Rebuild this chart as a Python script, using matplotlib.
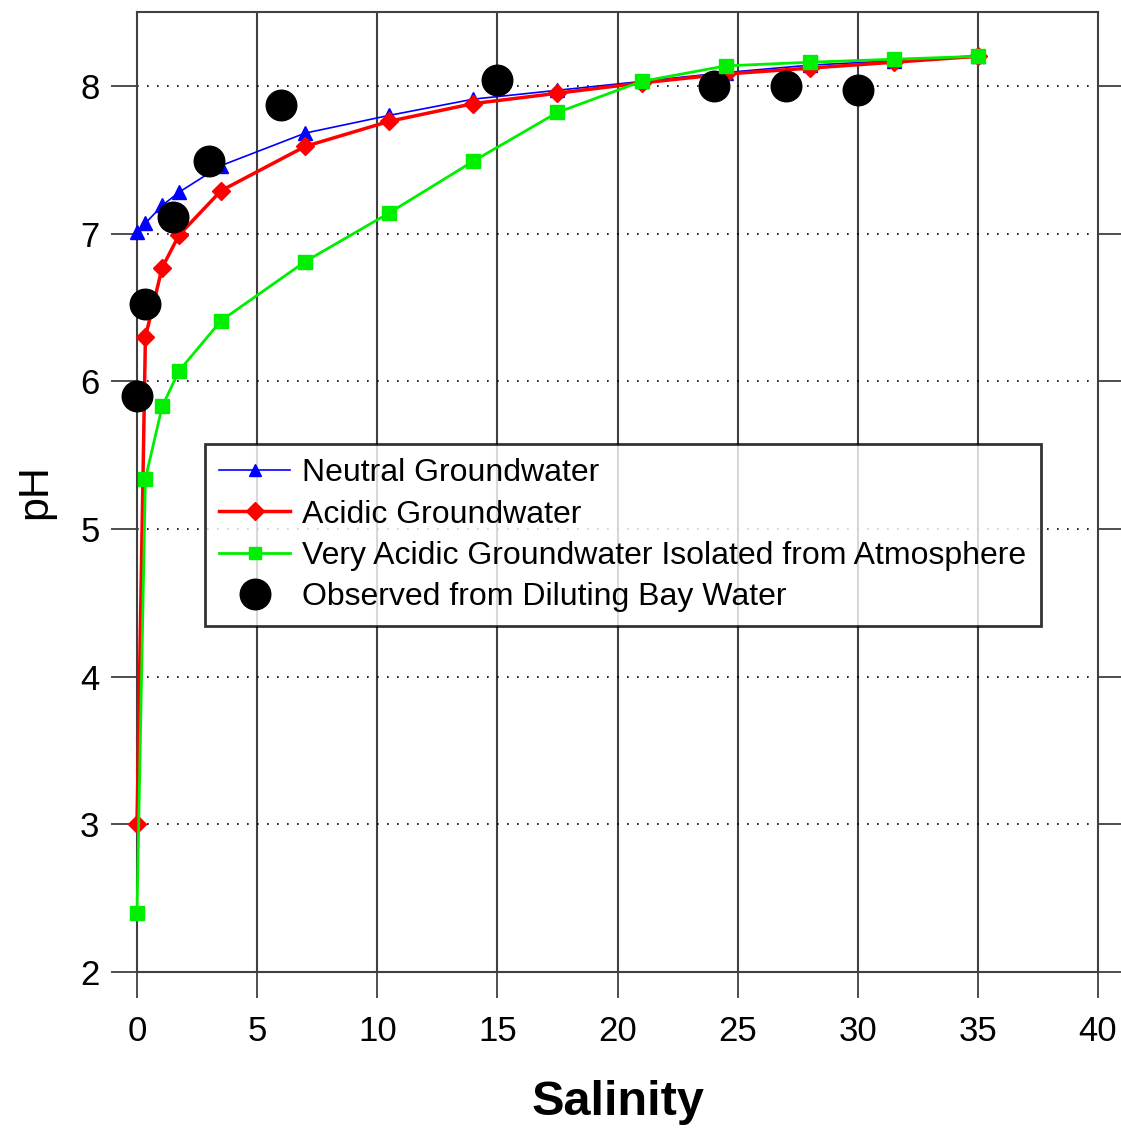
import matplotlib
matplotlib.use("Agg")
import matplotlib.pyplot as plt

plt.rcParams["font.family"] = ["Liberation Sans", "DejaVu Sans"]

# model runs: salinity vs pH
salinity = [0, 0.35, 1.05, 1.75, 3.5, 7, 10.5, 14, 17.5, 21, 24.5, 28, 31.5, 35]
ph_neutral = [7.01, 7.07, 7.19, 7.28, 7.46, 7.68, 7.80, 7.91, 7.97, 8.03, 8.09, 8.14, 8.17, 8.20]
ph_acidic = [3.00, 6.30, 6.77, 6.99, 7.29, 7.59, 7.76, 7.88, 7.95, 8.02, 8.08, 8.12, 8.16, 8.20]
ph_very_acidic = [2.40, 5.34, 5.83, 6.07, 6.41, 6.81, 7.14, 7.49, 7.82, 8.03, 8.135, 8.16, 8.18, 8.20]

# observations
obs_salinity = [0, 0.33, 1.5, 3, 6, 15, 24, 27, 30]
obs_ph = [5.90, 6.52, 7.11, 7.49, 7.87, 8.04, 8.00, 8.00, 7.97]

x_ticks = [0, 5, 10, 15, 20, 25, 30, 35, 40]
y_ticks = [2, 3, 4, 5, 6, 7, 8]

fig = plt.figure(figsize=(11.21, 11.32), dpi=100)
ax = fig.add_axes([137 / 1121, 1 - 972 / 1132, (1098 - 137) / 1121, (972 - 12) / 1132])

ax.plot(salinity, ph_neutral, color="#0000ff", lw=1.2, marker="^", ms=10,
        label="Neutral Groundwater", clip_on=False, zorder=3)
ax.plot(salinity, ph_acidic, color="#ff0000", lw=2.5, marker="D", ms=9,
        label="Acidic Groundwater", clip_on=False, zorder=3.1)
ax.plot(salinity, ph_very_acidic, color="#00ee00", lw=2, marker="s", ms=10,
        label="Very Acidic Groundwater Isolated from Atmosphere", clip_on=False, zorder=3.6)
ax.plot(obs_salinity, obs_ph, ls="none", marker="o", ms=22, color="black",
        label="Observed from Diluting Bay Water", clip_on=False, zorder=3.5)

ax.set_xlim(0, 40)
ax.set_ylim(2, 8.5)
ax.set_xticks(x_ticks)
ax.set_yticks(y_ticks)

# vertical grid solid, horizontal dotted
for xv in x_ticks[1:-1]:
    ax.axvline(xv, color="#404040", lw=1.5, zorder=1)
for yv in y_ticks[1:]:
    ax.axhline(yv, color="black", lw=1.2, ls=(0, (1, 5)), zorder=1)

for sp in ax.spines.values():
    sp.set_color("#404040")
    sp.set_linewidth(1.5)

ax.tick_params(axis="both", direction="out", length=19, width=1.3, color="#404040",
               labelsize=25, pad=12)
ax.tick_params(axis="y", right=True, pad=8)

ax.set_xlabel("Salinity", fontsize=35, fontweight="bold", labelpad=23)
ax.set_ylabel("pH", fontsize=31, labelpad=18)

leg = ax.legend(loc="upper left", bbox_to_anchor=(0.0708, 0.55), borderaxespad=0,
                fontsize=23, frameon=True, fancybox=False, edgecolor="black",
                handlelength=2.2, handletextpad=0.4, labelspacing=0.35,
                borderpad=0.45)
leg.get_frame().set_linewidth(2)
leg.set_zorder(5)
# smaller markers in legend, big dot for observations
for h in leg.legend_handles[:3]:
    h.set_markersize(9)
leg.legend_handles[3].set_markersize(22)

fig.savefig("out.png", dpi=100)
